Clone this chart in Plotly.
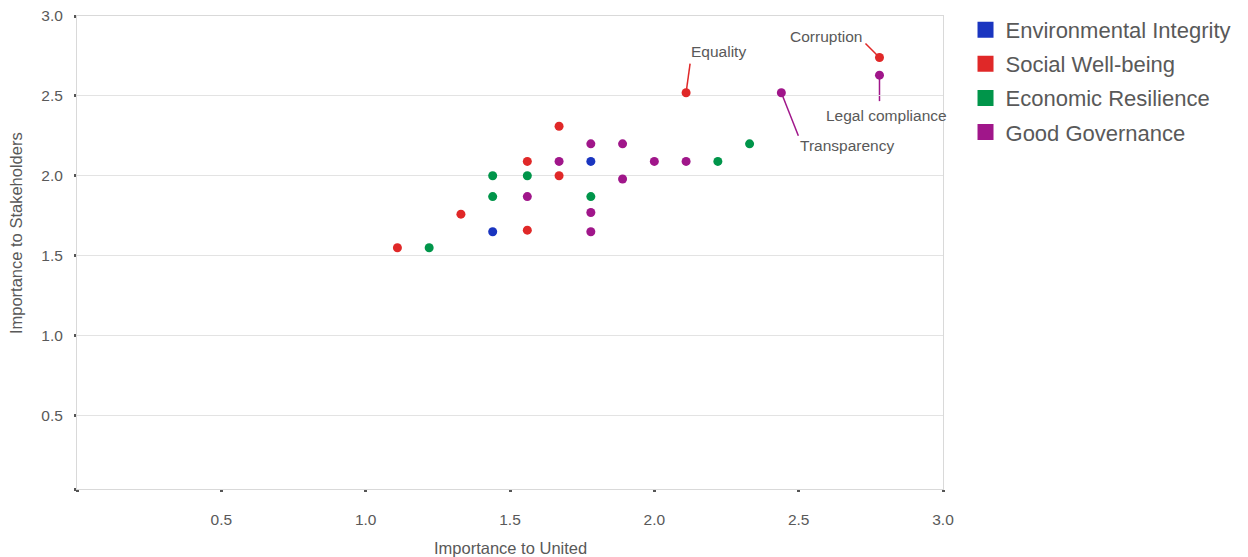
import plotly.graph_objects as go

# ---- data ----
groups = ["Environmental Integrity", "Social Well-being", "Economic Resilience", "Good Governance"]

env_x = [1.44, 1.78]
env_y = [1.65, 2.09]
soc_x = [1.11, 1.33, 1.56, 1.56, 1.67, 1.67, 2.11, 2.78]
soc_y = [1.55, 1.76, 2.09, 1.66, 2.31, 2.00, 2.52, 2.74]
eco_x = [1.22, 1.44, 1.44, 1.56, 1.78, 2.22, 2.33]
eco_y = [1.55, 2.00, 1.87, 2.00, 1.87, 2.09, 2.20]
gov_x = [1.56, 1.67, 1.78, 1.78, 1.78, 1.89, 1.89, 2.00, 2.11, 2.44, 2.78]
gov_y = [1.87, 2.09, 2.20, 1.77, 1.65, 2.20, 1.98, 2.09, 2.09, 2.52, 2.63]

label_text = ["Equality", "Corruption", "Legal compliance", "Transparency"]
label_group = [1, 1, 3, 3]
label_x = [2.11, 2.78, 2.78, 2.44]
label_y = [2.52, 2.74, 2.63, 2.52]

x_ticks = [0, 0.5, 1.0, 1.5, 2.0, 2.5, 3.0]
x_tick_text = ["", "0.5", "1.0", "1.5", "2.0", "2.5", "3.0"]
y_ticks = [0.04, 0.5, 1.0, 1.5, 2.0, 2.5, 3.0]
y_tick_text = ["", "0.5", "1.0", "1.5", "2.0", "2.5", "3.0"]

# ---- style ----
colors = ["#1a35c0", "#e02828", "#00954a", "#a0168a"]
FONT = "Liberation Sans, Arial, sans-serif"
TXT = "#595959"
# pixel offsets: (text dx, text dy, line end dx, line end dy, line start dx, line start dy)
label_offsets = [
    (32, 41, 4, 29, 0, 0),
    (-53, 21, -14, 14, 0, 0),
    (7, -40, 0, -26, 0, 0),
    (66, -53, 17, -43, 0, 0),
]

xs = [env_x, soc_x, eco_x, gov_x]
ys = [env_y, soc_y, eco_y, gov_y]

fig = go.Figure()
for i, g in enumerate(groups):
    fig.add_trace(go.Scatter(
        x=xs[i], y=ys[i], mode="markers", name=g, showlegend=False,
        marker=dict(color=colors[i], size=9), cliponaxis=False,
        hovertemplate="%{x}, %{y}<extra>" + g + "</extra>",
    ))
for i, g in enumerate(groups):
    fig.add_trace(go.Scatter(
        x=[None], y=[None], mode="markers", name=g, legendgroup=g,
        marker=dict(color=colors[i], size=18, symbol="square"),
    ))

shapes = []
annotations = []
for i, t in enumerate(label_text):
    tdx, tdy, ex, ey, sx, sy = label_offsets[i]
    c = colors[label_group[i]]
    shapes.append(dict(
        type="line", xref="x", yref="y", layer="below",
        xsizemode="pixel", ysizemode="pixel",
        xanchor=label_x[i], yanchor=label_y[i],
        x0=sx, y0=sy, x1=ex, y1=ey,
        line=dict(color=c, width=1.5),
    ))
    annotations.append(dict(
        x=label_x[i], y=label_y[i], xref="x", yref="y", text=t,
        showarrow=False, xshift=tdx, yshift=tdy,
        font=dict(family=FONT, size=15.5, color=TXT),
    ))

annotations.append(dict(
    text="Importance to United", xref="paper", yref="paper",
    x=0.5, y=-0.124, xanchor="center", yanchor="middle", showarrow=False,
    font=dict(family=FONT, size=16.5, color=TXT),
))
annotations.append(dict(
    text="Importance to Stakeholders", xref="paper", yref="paper",
    x=-0.071, y=0.54, xanchor="center", yanchor="middle", showarrow=False,
    textangle=-90, font=dict(family=FONT, size=16.5, color=TXT),
))

fig.update_layout(
    width=1248, height=557,
    margin=dict(l=77, r=305, t=16, b=68, autoexpand=False),
    plot_bgcolor="white", paper_bgcolor="white",
    font=dict(family=FONT, size=15.5, color=TXT),
    shapes=shapes, annotations=annotations,
    showlegend=True,
    legend=dict(
        x=1.026, y=1.015, xanchor="left", yanchor="top",
        font=dict(family=FONT, size=22, color=TXT),
        tracegroupgap=2.5, bgcolor="rgba(0,0,0,0)",
    ),
    xaxis=dict(
        range=[0, 3], tickvals=x_ticks, ticktext=x_tick_text,
        showgrid=False, zeroline=False, automargin=False,
        showline=True, linecolor="#d9d9d9", linewidth=1, mirror=True,
        ticks="outside", ticklen=2, tickwidth=3, tickcolor="#555555",
        ticklabelstandoff=14,
        tickfont=dict(family=FONT, size=15.5, color=TXT),
    ),
    yaxis=dict(
        range=[0.04, 3], tickvals=y_ticks, ticktext=y_tick_text,
        showgrid=True, gridcolor="#e3e3e3", gridwidth=1, zeroline=False,
        automargin=False,
        showline=True, linecolor="#d9d9d9", linewidth=1, mirror=True,
        ticks="outside", ticklen=2, tickwidth=3, tickcolor="#555555",
        ticklabelstandoff=8,
        tickfont=dict(family=FONT, size=15.5, color=TXT),
    ),
)

fig.write_html(
    "out.html",
    config={"displayModeBar": False},
    post_script="document.body.style.margin='0px';document.body.style.padding='0px';",
)
